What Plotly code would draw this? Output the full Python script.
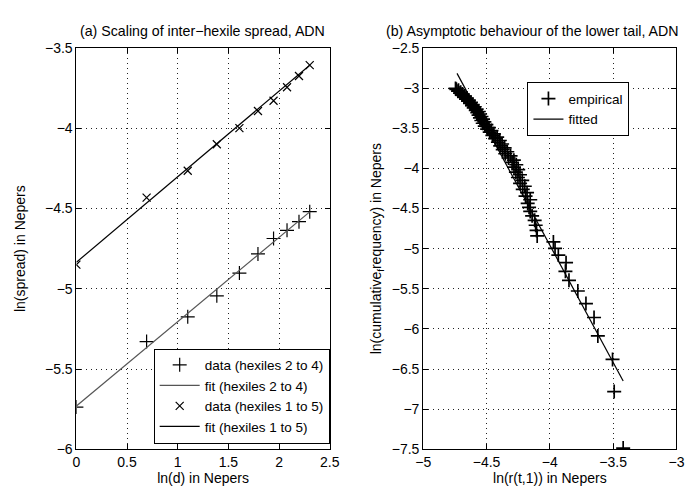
import plotly.graph_objects as go

# ---------- data: panel (a) ----------
ln_d = [0.0, 0.693, 1.099, 1.386, 1.609, 1.792, 1.946, 2.079, 2.197, 2.303]
spread_h24 = [-5.737, -5.329, -5.175, -5.044, -4.902, -4.783, -4.687, -4.636, -4.582, -4.520]
spread_h15 = [-4.850, -4.432, -4.265, -4.100, -4.000, -3.893, -3.829, -3.745, -3.675, -3.607]
fit_x = [0.0, 2.303]
fit_h24 = [-5.73, -4.521]
fit_h15 = [-4.835, -3.608]

# ---------- data: panel (b) ----------
emp_x = [-3.421, -3.492, -3.505, -3.621, -3.651, -3.715, -3.779, -3.849, -3.877, -3.872,
         -3.933, -3.959, -3.972, -4.100, -4.105, -4.112, -4.120, -4.140, -4.155, -4.164,
         -4.175, -4.155, -4.192, -4.180, -4.214, -4.198, -4.235, -4.218, -4.252, -4.236,
         -4.268, -4.250, -4.283, -4.265, -4.298, -4.284, -4.326, -4.310, -4.352, -4.336,
         -4.372, -4.357, -4.392, -4.377, -4.410, -4.395, -4.432, -4.416, -4.454, -4.442,
         -4.475, -4.461, -4.495, -4.481, -4.514, -4.501, -4.530, -4.517, -4.541, -4.528,
         -4.552, -4.540, -4.563, -4.551, -4.573, -4.561, -4.585, -4.578, -4.601, -4.593,
         -4.615, -4.609, -4.630, -4.623, -4.644, -4.640, -4.661, -4.656, -4.678, -4.672,
         -4.694, -4.689, -4.709, -4.704, -4.725, -4.721, -4.738, -4.745]
emp_y = [-7.484, -6.781, -6.380, -6.087, -5.858, -5.684, -5.528, -5.395, -5.283, -5.175,
         -5.080, -4.997, -4.917, -4.842, -4.773, -4.709, -4.648, -4.591, -4.537, -4.486,
         -4.437, -4.391, -4.346, -4.303, -4.263, -4.223, -4.186, -4.149, -4.114, -4.080,
         -4.048, -4.016, -3.985, -3.955, -3.926, -3.898, -3.871, -3.844, -3.818, -3.793,
         -3.768, -3.744, -3.720, -3.697, -3.675, -3.653, -3.631, -3.610, -3.590, -3.570,
         -3.550, -3.530, -3.511, -3.493, -3.474, -3.456, -3.438, -3.421, -3.404, -3.387,
         -3.371, -3.354, -3.338, -3.323, -3.307, -3.292, -3.277, -3.262, -3.247, -3.233,
         -3.219, -3.205, -3.191, -3.177, -3.164, -3.151, -3.138, -3.125, -3.112, -3.100,
         -3.087, -3.075, -3.063, -3.051, -3.039, -3.027, -3.016, -3.004]
fitted_x = [-4.733, -3.421]
fitted_y = [-2.817, -6.648]

# ---------- ticks ----------
xa_ticks = [0, 0.5, 1, 1.5, 2, 2.5]
ya_ticks = [-6, -5.5, -5, -4.5, -4, -3.5]
xb_ticks = [-5, -4.5, -4, -3.5, -3]
yb_ticks = [-7.5, -7, -6.5, -6, -5.5, -5, -4.5, -4, -3.5, -3, -2.5]

W, H = 697, 489
FONT = "Liberation Sans, Arial, sans-serif"

fig = go.Figure()

fig.add_trace(go.Scatter(x=ln_d, y=spread_h24, mode="markers", name="data (hexiles 2 to 4)",
                         marker=dict(symbol="cross-thin-open", size=10, color="black",
                                     line=dict(width=1.2, color="black")),
                         xaxis="x", yaxis="y", legend="legend"))
fig.add_trace(go.Scatter(x=fit_x, y=fit_h24, mode="lines", name="fit (hexiles 2 to 4)",
                         line=dict(color="#555555", width=1.2),
                         xaxis="x", yaxis="y", legend="legend"))
fig.add_trace(go.Scatter(x=ln_d, y=spread_h15, mode="markers", name="data (hexiles 1 to 5)",
                         marker=dict(symbol="x-thin-open", size=8, color="black",
                                     line=dict(width=1.2, color="black")),
                         xaxis="x", yaxis="y", legend="legend"))
fig.add_trace(go.Scatter(x=fit_x, y=fit_h15, mode="lines", name="fit (hexiles 1 to 5)",
                         line=dict(color="black", width=1.2),
                         xaxis="x", yaxis="y", legend="legend"))

fig.add_trace(go.Scatter(x=emp_x, y=emp_y, mode="markers", name="empirical",
                         marker=dict(symbol="cross-thin-open", size=10, color="black",
                                     line=dict(width=1.7, color="black")),
                         xaxis="x2", yaxis="y2", legend="legend2"))
fig.add_trace(go.Scatter(x=fitted_x, y=fitted_y, mode="lines", name="fitted",
                         line=dict(color="black", width=1.2),
                         xaxis="x2", yaxis="y2", legend="legend2"))

def ax(domain, rng, ticks, anchor, title, standoff):
    return dict(domain=domain, range=rng, tickvals=ticks, anchor=anchor,
                showline=True, linecolor="black", linewidth=1, mirror="ticks",
                ticks="inside", ticklen=5, tickcolor="black",
                showgrid=True, gridcolor="#222222", griddash="1px,4px", gridwidth=1,
                zeroline=False, tickfont=dict(size=14, color="black", family=FONT),
                title=dict(text=title, font=dict(size=14, color="black", family=FONT),
                           standoff=standoff))

fig.update_layout(
    width=W, height=H,
    margin=dict(l=0, r=0, t=0, b=0),
    paper_bgcolor="white", plot_bgcolor="white",
    font=dict(family=FONT, size=14, color="black"),
    xaxis=ax([62 / W, 322 / W], [0, 2.5], xa_ticks, "y", "ln(d) in Nepers", 2),
    yaxis=ax([1 - 448 / H, 1 - 33 / H], [-6, -3.5], ya_ticks, "x", "ln(spread) in Nepers", 16),
    xaxis2=ax([418 / W, 678 / W], [-5, -3], xb_ticks, "y2", "ln(r(t,1)) in Nepers", 2),
    yaxis2=ax([1 - 448 / H, 1 - 33 / H], [-7.5, -2.5], yb_ticks, "x2",
              "ln(cumulative<sub>f</sub>requency) in Nepers", 6),
    legend=dict(x=322 / W, y=1 - 442 / H, xanchor="right", yanchor="bottom",
                bgcolor="white", bordercolor="black", borderwidth=1, itemwidth=40,
                font=dict(size=13.5, color="black", family=FONT), tracegroupgap=0),
    legend2=dict(x=525 / W, y=1 - 96.5 / H, xanchor="left", yanchor="middle",
                 bgcolor="white", bordercolor="black", borderwidth=1,
                 font=dict(size=13.5, color="black", family=FONT), tracegroupgap=0),
    showlegend=True,
    annotations=[
        dict(text="(a) Scaling of inter\u2212hexile spread, ADN", x=191 / W, y=1 - 15 / H,
             xref="paper", yref="paper", xanchor="center", yanchor="middle",
             showarrow=False, font=dict(size=14.2, color="black", family=FONT)),
        dict(text="(b) Asymptotic behaviour of the lower tail, ADN", x=530 / W, y=1 - 15 / H,
             xref="paper", yref="paper", xanchor="center", yanchor="middle",
             showarrow=False, font=dict(size=14.2, color="black", family=FONT)),
    ],
)

fig.write_html("out.html")
